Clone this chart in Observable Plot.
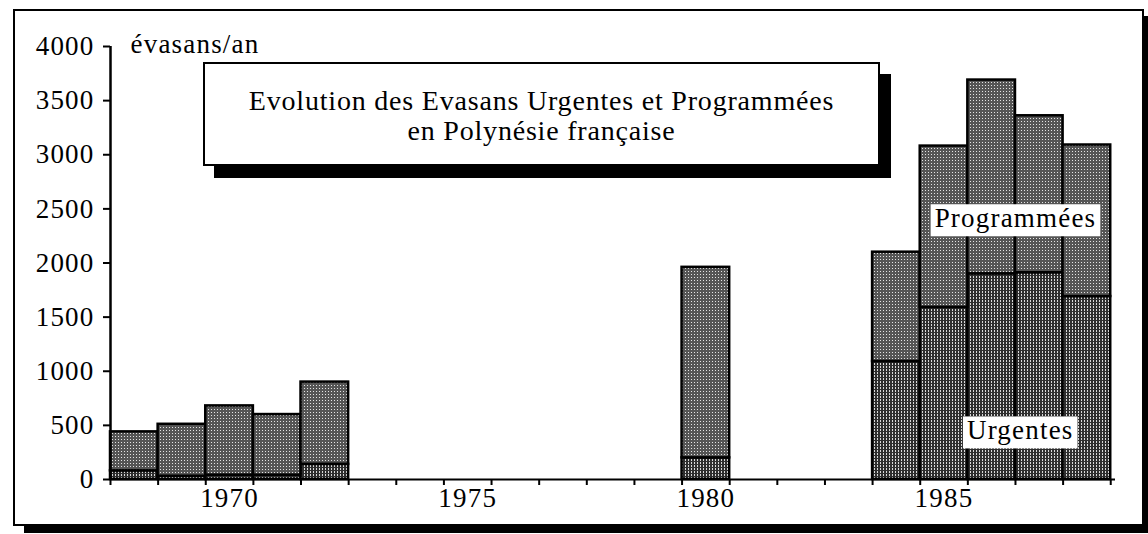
<!DOCTYPE html>
<html>
<head>
<meta charset="utf-8">
<script src="https://cdn.jsdelivr.net/npm/d3@7"></script>
<script src="https://cdn.jsdelivr.net/npm/@observablehq/plot@0.6"></script>
<style>
  html, body { margin: 0; padding: 0; background: #fff; }
  #wrap { position: relative; width: 1148px; height: 534px; overflow: hidden; background: #fff; font-family: "Liberation Serif", Tinos, "Times New Roman"; }
  #frame { position: absolute; left: 13px; top: 9px; width: 1127px; height: 513px; border: 2px solid #000; box-shadow: 11px 7px 0 #000; background: #fff; }
  #chart { position: absolute; left: 0; top: 0; }
  #chart svg, #chart svg text { font-family: "Liberation Serif", Tinos, "Times New Roman" !important; }
  #titlebox { position: absolute; left: 203px; top: 62px; width: 673px; height: 100px; border: 2px solid #000; background: #fff;
              box-shadow: 11px 12px 0 #000; font-family: "Liberation Serif", Tinos, "Times New Roman"; font-size: 28px; letter-spacing: 0.8px;
              text-align: center; line-height: 30px; box-sizing: content-box; }
  #titlebox div { position: relative; top: 22px; }
</style>
</head>
<body>
<svg width="0" height="0" style="position:absolute">
  <defs>
    <pattern id="patProg" width="3" height="3" patternUnits="userSpaceOnUse">
      <rect width="3" height="3" fill="#555555"></rect>
      <rect x="1" y="1" width="1" height="1" fill="#e4e4e4"></rect>
    </pattern>
    <pattern id="patUrg" width="3" height="3" patternUnits="userSpaceOnUse">
      <rect width="3" height="3" fill="#2e2e2e"></rect>
      <rect x="1" y="0" width="1" height="2" fill="#d8d8d8"></rect>
    </pattern>
  </defs>
</svg>
<div id="wrap">
  <div id="frame"></div>
  <div id="chart"></div>
  <div id="titlebox"><div>Evolution des Evasans Urgentes et Programmées<br>en Polynésie française</div></div>
</div>
<script>
// ---- data ----
const years       = [1968, 1969, 1970, 1971, 1972, 1980, 1984, 1985, 1986, 1987, 1988];
const urgentes    = [  80,   30,   40,   40,  140,  200, 1090, 1590, 1900, 1910, 1690];
const programmees = [ 360,  480,  640,  560,  760, 1760, 1010, 1490, 1790, 1450, 1400];
const yTicks      = [0, 500, 1000, 1500, 2000, 2500, 3000, 3500, 4000];
const xLabelTicks = [1970, 1975, 1980, 1985];
const yUnit       = "évasans/an";
const seriesLabels = [
  {text: "Programmées", year: 1986.5, value: 2410},
  {text: "Urgentes",    year: 1986.6, value: 450}
];

const rows = years.map((y, i) => ({year: y, urg: urgentes[i], prog: programmees[i], total: urgentes[i] + programmees[i]}));
const firstYear = d3.min(years), lastYear = d3.max(years);
const yearEdges = d3.range(firstYear - 0.5, lastYear + 1, 1);
const serif = "Liberation Serif";

const plot = Plot.plot({
  width: 1148,
  height: 534,
  marginLeft: 110,
  marginRight: 33,
  marginTop: 46,
  marginBottom: 55,
  style: {fontFamily: serif, fontSize: "27px", color: "#000", background: "transparent", letterSpacing: "1.2px", overflow: "visible"},
  x: {type: "linear", domain: [firstYear - 0.5, lastYear + 0.6], axis: null},
  y: {domain: [0, 4000], axis: null},
  marks: [
    Plot.rectY(rows, {x1: d => d.year - 0.5, x2: d => d.year + 0.5, y1: 0, y2: "urg", fill: "url(#patUrg)", stroke: "#000", strokeWidth: 2.5}),
    Plot.rectY(rows, {x1: d => d.year - 0.5, x2: d => d.year + 0.5, y1: "urg", y2: "total", fill: "url(#patProg)", stroke: "#000", strokeWidth: 2.5}),
    Plot.ruleY([0], {stroke: "#000", strokeWidth: 2}),
    Plot.ruleX([firstYear - 0.5], {stroke: "#000", strokeWidth: 2.5}),
    Plot.axisY({ticks: yTicks, tickSize: 7, tickPadding: 9, tickFormat: d => String(d), label: null, strokeWidth: 2}),
    Plot.axisX({ticks: yearEdges, tickSize: 6, tickFormat: () => "", label: null, strokeWidth: 2}),
    Plot.axisX({ticks: xLabelTicks, tickSize: 0, tickPadding: 8, tickFormat: d => String(d), label: null}),
    Plot.text([yUnit], {frameAnchor: "top-left", dx: 20, dy: -2, textAnchor: "start", lineAnchor: "middle"}),
    Plot.text(seriesLabels, {x: "year", y: "value", text: "text", fill: "#000"})
  ]
});
document.getElementById("chart").appendChild(plot);

// white boxes behind the series labels
d3.select(plot).selectAll('g[aria-label="text"]').each(function() {
  const g = this;
  d3.select(g).selectAll("text").each(function() {
    const t = d3.select(this).text();
    if (!seriesLabels.some(l => l.text === t)) return;
    const b = this.getBBox();
    const tr = this.getAttribute("transform");
    const r = document.createElementNS("http://www.w3.org/2000/svg", "rect");
    r.setAttribute("x", b.x - 4);
    r.setAttribute("y", b.y + 1);
    r.setAttribute("width", b.width + 8);
    r.setAttribute("height", b.height + 2);
    r.setAttribute("fill", "#fff");
    if (tr) r.setAttribute("transform", tr);
    g.insertBefore(r, this);
  });
});
</script>
</body>
</html>
